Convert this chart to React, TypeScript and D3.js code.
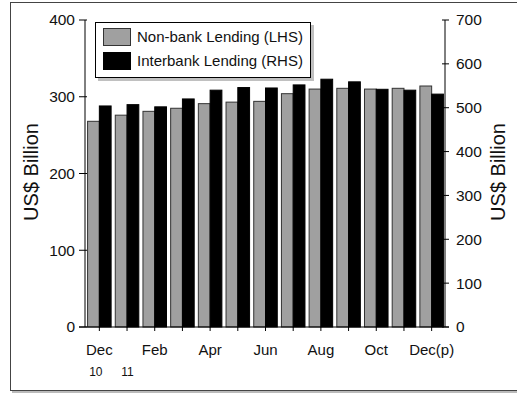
import React from "react";
import * as d3 from "d3";

const categories = ["Dec10", "Jan11", "Feb", "Mar", "Apr", "May", "Jun", "Jul", "Aug", "Sep", "Oct", "Nov", "Dec(p)"];
const tickLabels = ["Dec", "", "Feb", "", "Apr", "", "Jun", "", "Aug", "", "Oct", "", "Dec(p)"];
const yearLabels = ["10", "11"];
const nonBank = [268, 276, 281, 285, 291, 293, 294, 304, 310, 311, 310, 311, 314];
const interbank = [504, 507, 502, 520, 540, 546, 545, 552, 565, 559, 542, 540, 531];
const leftTicks = [0, 100, 200, 300, 400];
const rightTicks = [0, 100, 200, 300, 400, 500, 600, 700];

const W = 517, H = 396;
const L = 85, R = 445, T = 20, B = 327;
const FONT = "'Liberation Sans', Arial, sans-serif";

export default function App() {
  const x = d3.scaleBand().domain(categories).range([L, R]).paddingInner(0.15).paddingOuter(0.075);
  const yL = d3.scaleLinear().domain([0, 400]).range([B, T]);
  const yR = d3.scaleLinear().domain([0, 700]).range([B, T]);
  const bw = x.bandwidth() / 2;
  return (
    <svg width={W} height={H} style={{ position: "absolute", left: 0, top: 0 }} fontFamily={FONT} fill="#111">
      <rect x={0} y={0} width={W} height={H} fill="#fff" />
      {/* frame shadow + frame */}
      <rect x={12} y={4} width={W} height={389} fill="#bbb" />
      <rect x={10.5} y={2.5} width={W} height={388} fill="#fff" stroke="#444" strokeWidth={1} />
      {/* bars */}
      {categories.map((c, i) => (
        <g key={c}>
          <rect x={x(c)! + 0.5} y={yL(nonBank[i])} width={bw} height={B - yL(nonBank[i])} fill="#a0a0a0" stroke="#333" strokeWidth={1} />
          <rect x={x(c)! + bw + 0.5} y={yR(interbank[i])} width={bw} height={B - yR(interbank[i])} fill="#000" stroke="#000" strokeWidth={1} />
        </g>
      ))}
      {/* left axis */}
      <line x1={L} x2={L} y1={T} y2={B} stroke="#000" />
      {leftTicks.map((t) => (
        <g key={t}>
          <line x1={L - 6} x2={L + 2} y1={yL(t)} y2={yL(t)} stroke="#000" />
          <text x={L - 10} y={yL(t)} dy="0.35em" textAnchor="end" fontSize={15.5}>{t}</text>
        </g>
      ))}
      {/* right axis */}
      <line x1={R} x2={R} y1={T} y2={B} stroke="#000" />
      {rightTicks.map((t) => (
        <g key={t}>
          <line x1={R - 3} x2={R + 4} y1={yR(t)} y2={yR(t)} stroke="#000" />
          <text x={R + 11} y={yR(t)} dy="0.35em" textAnchor="start" fontSize={15.5}>{t}</text>
        </g>
      ))}
      {/* x axis */}
      <line x1={L - 6} x2={R + 4} y1={B} y2={B} stroke="#000" />
      {categories.map((c, i) => {
        const cx = x(c)! + x.bandwidth() / 2 + 0.5;
        return (
          <g key={c}>
            <line x1={cx} x2={cx} y1={B} y2={B + 4} stroke="#000" />
            {tickLabels[i] && (
              <text x={cx} y={355} textAnchor="middle" fontSize={15}>{tickLabels[i]}</text>
            )}
            {i < yearLabels.length && (
              <text x={i === 0 ? cx - 3.5 : cx + 0.5} y={376} textAnchor="middle" fontSize={12}>{yearLabels[i]}</text>
            )}
          </g>
        );
      })}
      {/* axis titles */}
      <text transform="translate(38,172) rotate(-90)" textAnchor="middle" fontSize={20}>US$ Billion</text>
      <text transform="translate(505,172) rotate(-90)" textAnchor="middle" fontSize={20}>US$ Billion</text>
      {/* legend */}
      <rect x={98} y={25} width={216} height={56} fill="#c0c0c0" />
      <rect x={95.5} y={22.5} width={215} height={55} fill="#fff" stroke="#000" />
      <rect x={103.5} y={28.5} width={27} height={17} fill="#a0a0a0" stroke="#333" />
      <rect x={103.5} y={52.5} width={27} height={17} fill="#000" stroke="#000" />
      <text x={137} y={37} dy="0.35em" fontSize={15}>Non-bank Lending (LHS)</text>
      <text x={137} y={61} dy="0.35em" fontSize={15}>Interbank Lending (RHS)</text>
    </svg>
  );
}
